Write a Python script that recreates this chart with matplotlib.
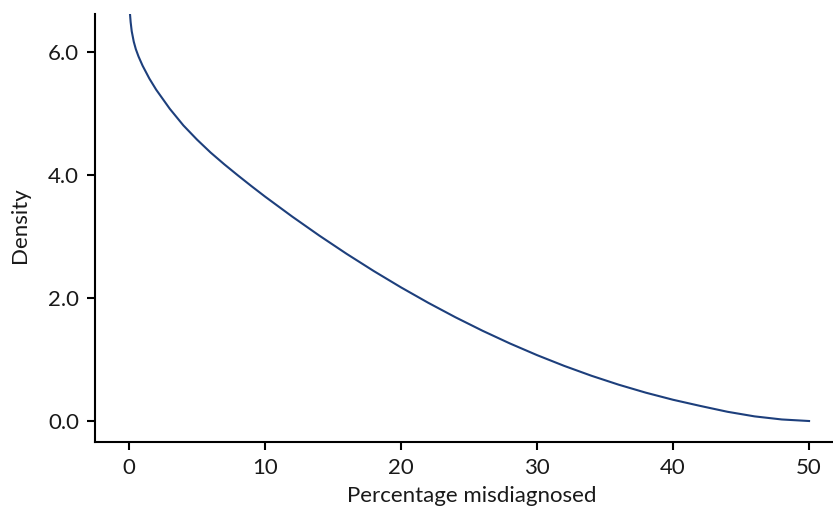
import matplotlib
matplotlib.use("Agg")
import matplotlib.pyplot as plt
from matplotlib.ticker import FormatStrFormatter

plt.rcParams['font.family'] = ['Lato', 'DejaVu Sans']

# Percentage misdiagnosed (x) and density (y)
pct = [0.0, 0.03, 0.07, 0.12, 0.2, 0.35, 0.5, 0.7, 1.0, 1.5, 2.0, 3.0, 4.0, 5.0, 6.0, 7.0, 8.0, 9.0,
       10, 12, 14, 16, 18, 20, 22, 24, 26, 28, 30, 32, 34, 36, 38, 40,
       42, 44, 46, 48, 50]
density = [7.4, 6.8, 6.62, 6.48, 6.33, 6.16, 6.04, 5.92, 5.77, 5.56, 5.38, 5.07, 4.80, 4.57, 4.36, 4.17, 3.99, 3.815,
           3.645, 3.32, 3.01, 2.715, 2.435, 2.17, 1.92, 1.685, 1.465, 1.26, 1.07, 0.895, 0.735, 0.59, 0.46, 0.345,
           0.245, 0.15, 0.075, 0.025, 0.0]

x_ticks = [0, 10, 20, 30, 40, 50]
y_ticks = [0.0, 2.0, 4.0, 6.0]

fig = plt.figure(figsize=(8.33, 5.08), dpi=100)
ax = fig.add_axes([95/833, 1 - 441.7/508, 738/833, 427.7/508])

ax.plot(pct, density, color='#1d3f7c', lw=1.5, solid_joinstyle='round')

ax.set_xlim(-2.5, 51.76)
ax.set_ylim(-0.336, 6.61)
ax.set_xticks(x_ticks)
ax.set_yticks(y_ticks)
ax.yaxis.set_major_formatter(FormatStrFormatter('%.1f'))

for s in ['top', 'right']:
    ax.spines[s].set_visible(False)
for s in ['left', 'bottom']:
    ax.spines[s].set_linewidth(1.5)
    ax.spines[s].set_color('black')

ax.tick_params(axis='both', length=5.5, width=1.5, color='black',
               labelsize=16, pad=6, labelcolor='#1a1a1a')
ax.set_xlabel('Percentage misdiagnosed', fontsize=16, color='#1a1a1a')
ax.set_ylabel('Density', fontsize=16, color='#1a1a1a')
ax.xaxis.set_label_coords((472 - 95) / 738, -(486 - 441.7) / 427.7)
ax.yaxis.set_label_coords(-(95 - 30) / 738, (441.7 - 225) / 427.7)

fig.savefig('out.png', dpi=100)
